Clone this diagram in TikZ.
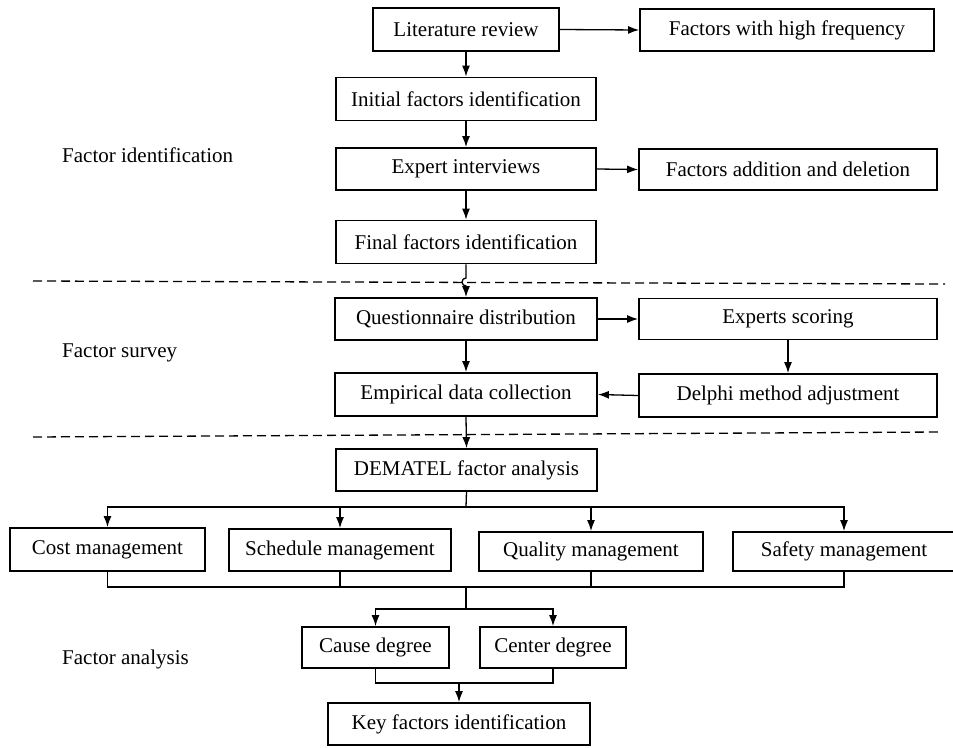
\documentclass[tikz,border=0pt]{standalone}
\usepackage{fontspec}
\setmainfont{Liberation Serif}
\usetikzlibrary{arrows.meta}
\begin{document}
\begin{tikzpicture}[x=1pt,y=-1pt,
  box/.style={draw,line width=1.8pt,inner sep=0pt,font=\fontsize{21}{25}\selectfont},
  lbl/.style={anchor=west,inner sep=0pt,font=\fontsize{21}{25}\selectfont},
  conn/.style={line width=1.3pt},
  arr/.style={conn,-{Latex[length=11pt,width=8pt]}},
  sep/.style={line width=1.3pt,dash pattern=on 9pt off 5pt}]
\useasboundingbox (0,0) rectangle (953,747);
% boxes
\node[box,minimum width=186,minimum height=43] (lit) at (466,29.5) {Literature review};
\node[box,minimum width=294,minimum height=42] (fhf) at (787,30) {Factors with high frequency};
\node[box,minimum width=260,minimum height=43] (init) at (466,99) {Initial factors identification};
\node[box,minimum width=260,minimum height=42] (exp) at (466,169) {Expert interviews};
\node[box,minimum width=298,minimum height=41] (fad) at (788,169.5) {Factors addition and deletion};
\node[box,minimum width=260,minimum height=43] (fin) at (466,242) {Final factors identification};
\node[box,minimum width=262,minimum height=42] (que) at (466,319) {Questionnaire distribution};
\node[box,minimum width=298,minimum height=41] (es) at (788,319) {Experts scoring};
\node[box,minimum width=262,minimum height=43] (emp) at (466,394.5) {Empirical data collection};
\node[box,minimum width=298,minimum height=43] (del) at (788,395.5) {Delphi method adjustment};
\node[box,minimum width=261,minimum height=42] (dem) at (466.5,470) {DEMATEL factor analysis};
\node[box,minimum width=195,minimum height=43] (cost) at (107.5,549.5) {Cost management};
\node[box,minimum width=222,minimum height=42] (sch) at (340,550) {Schedule management};
\node[box,minimum width=224,minimum height=39] (qua) at (591,551.5) {Quality management};
\node[box,minimum width=222,minimum height=39] (saf) at (844,551.5) {Safety management};
\node[box,minimum width=147,minimum height=41] (cause) at (375.5,647.5) {Cause degree};
\node[box,minimum width=146,minimum height=41] (center) at (553,647.5) {Center degree};
\node[box,minimum width=262,minimum height=42] (key) at (459,724) {Key factors identification};
% labels
\node[lbl] (l1) at (62,155) {Factor identification};
\node[lbl] (l2) at (62,353) {Factor survey};
\node[lbl] (l3) at (62,659) {Factor analysis};
% separators
\coordinate (s1a) at (33,281); \coordinate (s1b) at (945,284);
\coordinate (s2a) at (33,437); \coordinate (s2b) at (940,432);
\draw[sep] (s1a) -- (s1b);
\draw[sep] (s2a) -- (s2b);
% connectors
\draw[arr] (lit.south) -- (init.north);
\draw[arr] (lit.east) -- (fhf.west);
\draw[arr] (init.south) -- (exp.north);
\draw[arr] (exp.east) -- (fad.west);
\draw[arr] (exp.south) -- (fin.north);
\coordinate (j1) at (466,278);
\draw[arr] (fin.south) -- (j1) arc[start angle=270,end angle=90,radius=4] -- (que.north);
\draw[arr] (que.south) -- (emp.north);
\draw[arr] (que.east) -- (es.west);
\draw[arr] (es.south) -- (del.north);
\draw[arr] (del.west) -- (emp.east);
\draw[arr] (emp.south) -- (dem.north);
\coordinate (b1) at (466,507);
\draw[conn] (dem.south) -- (b1);
\draw[arr] (b1) -| (cost.north);
\draw[arr] (b1) -| (sch.north);
\draw[arr] (b1) -| (qua.north);
\draw[arr] (b1) -| (saf.north);
\coordinate (b2) at (466,587);
\draw[conn] (cost.south) |- (b2);
\draw[conn] (sch.south) |- (b2);
\draw[conn] (qua.south) |- (b2);
\draw[conn] (saf.south) |- (b2);
\coordinate (b3) at (466,609);
\draw[conn] (b2) -- (b3);
\draw[arr] (b3) -| (cause.north);
\draw[arr] (b3) -| (center.north);
\coordinate (b4) at (459,683);
\draw[conn] (cause.south) |- (b4);
\draw[conn] (center.south) |- (b4);
\draw[arr] (b4) -- (key.north);
\end{tikzpicture}
\end{document}
